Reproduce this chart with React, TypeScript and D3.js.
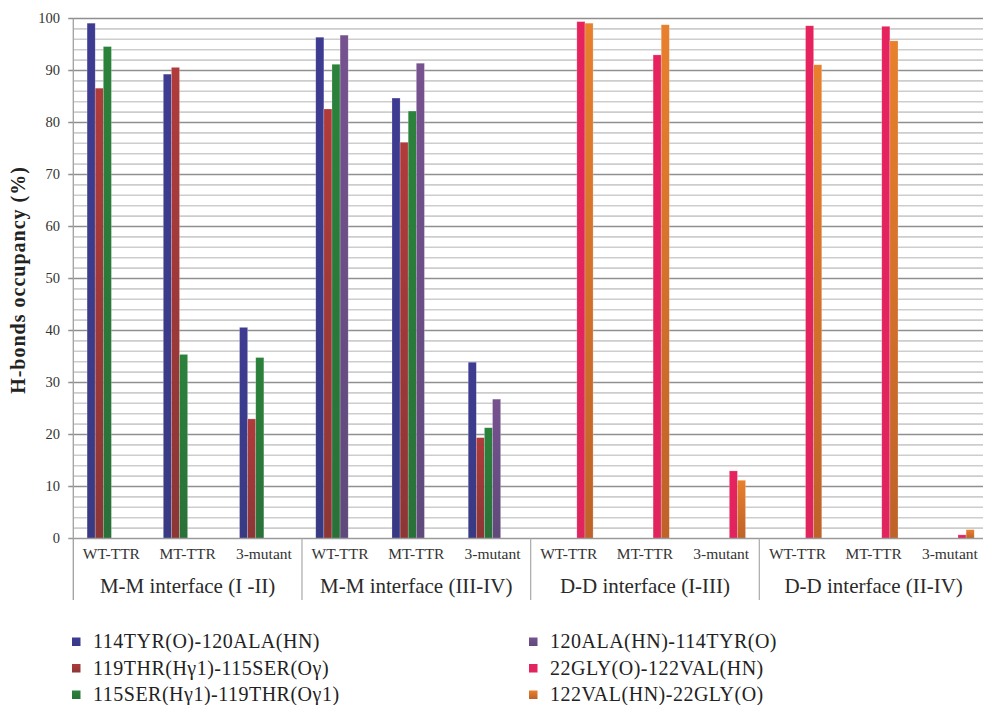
import React from "react";
import * as d3 from "d3";

const categories = [
  "WT-TTR|0", "MT-TTR|0", "3-mutant|0",
  "WT-TTR|1", "MT-TTR|1", "3-mutant|1",
  "WT-TTR|2", "MT-TTR|2", "3-mutant|2",
  "WT-TTR|3", "MT-TTR|3", "3-mutant|3",
];
const groups = [
  "M-M interface (I -II)",
  "M-M interface (III-IV)",
  "D-D interface (I-III)",
  "D-D interface (II-IV)",
];
const seriesNames = [
  "114TYR(O)-120ALA(HN)",
  "119THR(Hγ1)-115SER(Oγ)",
  "115SER(Hγ1)-119THR(Oγ1)",
  "120ALA(HN)-114TYR(O)",
  "22GLY(O)-122VAL(HN)",
  "122VAL(HN)-22GLY(O)",
];
const seriesTop = ["#3d3c92", "#b03b3b", "#2b823b", "#76528f", "#e6235f", "#e8802d"];
const seriesBottom = ["#393a84", "#8c3636", "#2a7139", "#5f4a7b", "#e0245e", "#bf6229"];

// values per series, per category (null = no bar)
const s114TYR = [99.1, 89.3, 40.6, 96.4, 84.7, 33.9, null, null, null, null, null, null];
const s119THR = [86.6, 90.6, 23.0, 82.6, 76.2, 19.4, null, null, null, null, null, null];
const s115SER = [94.6, 35.4, 34.8, 91.2, 82.2, 21.3, null, null, null, null, null, null];
const s120ALA = [null, null, null, 96.8, 91.4, 26.8, null, null, null, null, null, null];
const s22GLY = [null, null, null, null, null, null, 99.4, 93.0, 13.0, 98.6, 98.5, 0.7];
const s122VAL = [null, null, null, null, null, null, 99.1, 98.8, 11.2, 91.1, 95.7, 1.7];
const seriesValues = [s114TYR, s119THR, s115SER, s120ALA, s22GLY, s122VAL];

const yTicks = [0, 10, 20, 30, 40, 50, 60, 70, 80, 90, 100];
const yMinor = d3.range(2, 100, 2).filter((v) => v % 10 !== 0);

const W = 983;
const H = 705;
const left = 73.3;
const right = 988;
const top = 18.5;
const bottom = 538.5;

export default function App() {
  const y = d3.scaleLinear().domain([0, 100]).range([bottom, top]);
  const x0 = d3.scaleBand<string>().domain(categories).range([left, right]).paddingInner(0).paddingOuter(0);
  const x1 = d3
    .scaleBand<string>()
    .domain(seriesNames)
    .range([0, x0.bandwidth()])
    .paddingInner(0)
    .paddingOuter(1.7);
  const groupW = (right - left) / groups.length;
  const font = "'Liberation Serif', 'Times New Roman', serif";

  return (
    <svg
      width={W}
      height={H}
      style={{ position: "absolute", left: 0, top: 0, background: "#fff" }}
      fontFamily={font}
    >
      <defs>
        {seriesNames.map((s, i) => (
          <linearGradient key={s} id={`g${i}`} x1="0" y1="0" x2="0" y2="1">
            <stop offset="0" stopColor={seriesTop[i]} />
            <stop offset="1" stopColor={seriesBottom[i]} />
          </linearGradient>
        ))}
        <clipPath id="clip">
          <rect x={0} y={0} width={W} height={H} />
        </clipPath>
      </defs>
      <rect x={0} y={0} width={W} height={H} fill="#fff" />
      <g clipPath="url(#clip)">
        {/* minor grid */}
        {yMinor.map((v) => (
          <line key={`m${v}`} x1={left} x2={right} y1={y(v)} y2={y(v)} stroke="#cdcdcd" strokeWidth={1.6} />
        ))}
        {/* major grid */}
        {yTicks.filter((v) => v > 0).map((v) => (
          <line key={`M${v}`} x1={left - 5} x2={right} y1={y(v)} y2={y(v)} stroke="#8f8f8f" strokeWidth={1.3} />
        ))}
        {/* bars */}
        {seriesValues.map((vals, si) =>
          vals.map((v, ci) =>
            v == null ? null : (
              <rect
                key={`b${si}-${ci}`}
                x={(x0(categories[ci]) as number) + (x1(seriesNames[si]) as number)}
                y={y(v)}
                width={x1.bandwidth()}
                height={y(0) - y(v)}
                fill={`url(#g${si})`}
                stroke="rgba(255,255,255,0.35)"
                strokeWidth={0.6}
              />
            )
          )
        )}
        {/* x axis baseline */}
        <line x1={left - 5} x2={right} y1={y(0)} y2={y(0)} stroke="#9a9a9a" strokeWidth={1.3} />
        {/* y axis line */}
        <line x1={left} x2={left} y1={top} y2={600} stroke="#a0a0a0" strokeWidth={1.3} />
        {/* group dividers */}
        {groups.map((g, gi) =>
          gi === 0 ? null : (
            <line
              key={`d${gi}`}
              x1={left + gi * groupW}
              x2={left + gi * groupW}
              y1={y(0)}
              y2={600}
              stroke="#b0b0b0"
              strokeWidth={1.3}
            />
          )
        )}
        {/* y tick labels */}
        {yTicks.map((v) => (
          <text key={`t${v}`} x={60} y={y(v) + 4.8} textAnchor="end" fontSize={14.5} fill="#333">
            {v}
          </text>
        ))}
        {/* category labels */}
        {categories.map((c) => (
          <text
            key={`c${c}`}
            x={(x0(c) as number) + x0.bandwidth() / 2}
            y={559}
            textAnchor="middle"
            fontSize={15.5}
            fill="#333"
          >
            {c.split("|")[0]}
          </text>
        ))}
        {/* group labels */}
        {groups.map((g, gi) => (
          <text
            key={`g${gi}`}
            x={left + (gi + 0.5) * groupW}
            y={593}
            textAnchor="middle"
            fontSize={21}
            fill="#2a2a2a"
          >
            {g}
          </text>
        ))}
        {/* y title */}
        <text
          transform={`translate(25,${280}) rotate(-90)`}
          textAnchor="middle"
          fontSize={20}
          letterSpacing={1}
          fontWeight="bold"
          fill="#222"
        >
          H-bonds occupancy (%)
        </text>
        {/* legend */}
        {seriesNames.map((s, i) => {
          const col = Math.floor(i / 3);
          const row = i % 3;
          const sx = col === 0 ? 72 : 529;
          const by = 648 + row * 26.5;
          return (
            <g key={`l${i}`}>
              <rect x={sx} y={by - 10.5} width={8.5} height={8.5} fill={`url(#g${i})`} />
              <text x={sx + 21} y={by} fontSize={20} letterSpacing={0.5} fill="#222">
                {s}
              </text>
            </g>
          );
        })}
      </g>
    </svg>
  );
}
